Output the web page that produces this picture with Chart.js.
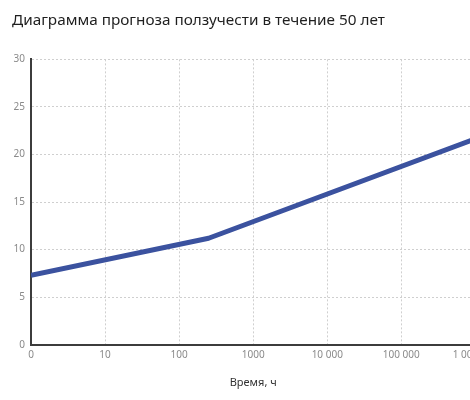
<!DOCTYPE html>
<html>
<head>
<meta charset="utf-8">
<script src="https://cdn.jsdelivr.net/npm/chart.js@4"></script>
<style>
  html, body { margin: 0; padding: 0; background: #fff; overflow: hidden; }
  #wrap { width: 502px; height: 400px; }
</style>
</head>
<body>
<div id="wrap"><canvas id="creepCanvas" width="502" height="400"></canvas></div>
<script>
// время, ч (0 -> начало шкалы) и ползучесть
const timeHours = [0, 250, 1000000];
const creep = [7.3, 11.2, 21.65];
const xTickLabels = ['0', '10', '100', '1000', '10 000', '100 000', '1 000 000'];
const yTicks = [0, 5, 10, 15, 20, 25, 30];

// шкала по оси X логарифмическая по декадам, 0 стоит на первой позиции
function decade(h) {
  return h > 0 ? Math.log10(h) : 0;
}

const points = timeHours.map((h, i) => ({ x: decade(h), y: creep[i] }));

const ctx = document.getElementById('creepCanvas').getContext('2d');
window.creepChart = new Chart(ctx, {
  type: 'line',
  data: {
    datasets: [{
      data: points,
      borderColor: '#3b529f',
      borderWidth: 5,
      borderJoinStyle: 'round',
      borderCapStyle: 'butt',
      pointRadius: 0,
      tension: 0,
      fill: false
    }]
  },
  options: {
    responsive: false,
    animation: false,
    layout: { padding: { left: 12, top: 6, right: 0, bottom: 11 } },
    plugins: {
      legend: { display: false },
      tooltip: { enabled: false },
      title: {
        display: true,
        text: 'Диаграмма прогноза ползучести в течение 50 лет',
        align: 'start',
        color: '#1f1f1f',
        font: { family: 'Noto Sans', size: 15.3, weight: 'normal' },
        padding: { top: 5, bottom: 30 }
      }
    },
    scales: {
      x: {
        type: 'linear',
        min: 0,
        max: 6,
        ticks: {
          stepSize: 1,
          color: '#8a8a8a',
          font: { family: 'Noto Sans', size: 10 },
          padding: 4,
          maxRotation: 0,
          callback: (v) => xTickLabels[v]
        },
        grid: { color: '#cfcfcf', lineWidth: 1, drawTicks: false },
        border: { color: '#3c3c3c', width: 2, dash: [2, 2] },
        title: {
          display: true,
          text: 'Время, ч',
          color: '#333',
          font: { family: 'Noto Sans', size: 11 },
          padding: { top: 11, bottom: 0 }
        }
      },
      y: {
        min: 0,
        max: 30,
        afterBuildTicks: (axis) => { axis.ticks = yTicks.map(v => ({ value: v })); },
        afterFit: (axis) => { axis.width = 19; },
        ticks: {
          color: '#8a8a8a',
          font: { family: 'Noto Sans', size: 10 },
          padding: 6
        },
        grid: { color: '#cfcfcf', lineWidth: 1, drawTicks: false },
        border: { color: '#3c3c3c', width: 2, dash: [2, 2] }
      }
    }
  }
});
</script>
</body>
</html>
